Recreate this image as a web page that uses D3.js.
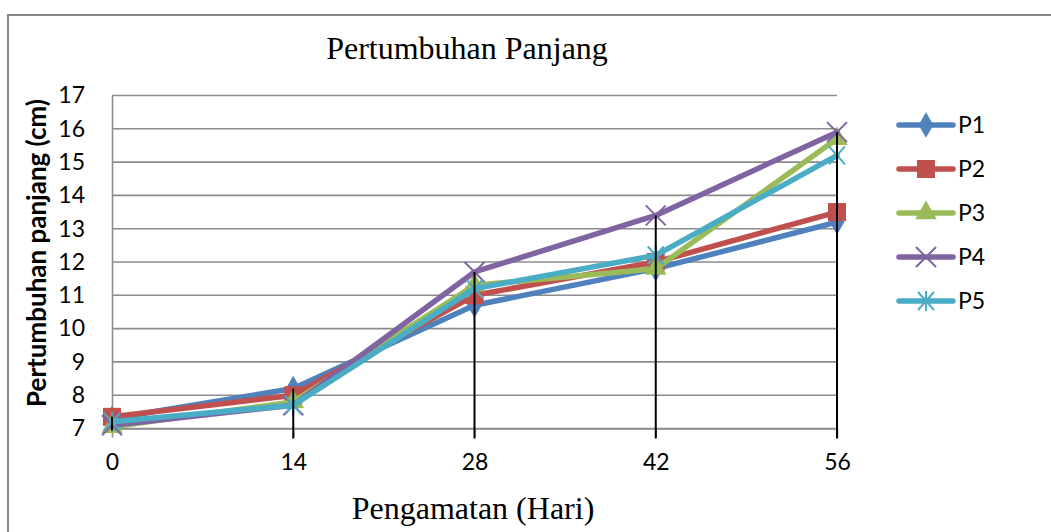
<!DOCTYPE html>
<html>
<head>
<meta charset="utf-8">
<script src="https://cdn.jsdelivr.net/npm/d3@7"></script>
<style>
    body { margin: 0; background: #fff; }
    svg { display: block; }
</style>
</head>
<body>
<svg id="chart"></svg>
<script>
"use strict";

// data
const days = [0, 14, 28, 42, 56];
const yTicks = [7, 8, 9, 10, 11, 12, 13, 14, 15, 16, 17];
const seriesNames = ["P1", "P2", "P3", "P4", "P5"];
const p1 = [7.3, 8.2, 10.7, 11.8, 13.2];
const p2 = [7.35, 8.0, 11.0, 12.0, 13.5];
const p3 = [7.05, 7.8, 11.3, 11.8, 15.7];
const p4 = [7.1, 7.7, 11.7, 13.4, 15.9];
const p5 = [7.2, 7.7, 11.2, 12.2, 15.2];
const colors = ["#4F81BD", "#C0504D", "#9BBB59", "#8064A2", "#4BACC6"];
const markers = ["diamond", "square", "triangle", "x", "star"];

const width = 1051;
const height = 532;
const plot = { left: 112, right: 837, top: 95.5, bottom: 428.5 };
const sans = "Lato, 'Open Sans', sans-serif";
const serif = "'Liberation Serif', 'Times New Roman', serif";

const svg = d3.select("#chart")
    .attr("width", width)
    .attr("height", height);

// outer chart frame (cut by the window on right and bottom)
svg.append("rect")
    .attr("x", 8).attr("y", 15)
    .attr("width", 1100).attr("height", 600)
    .attr("fill", "none")
    .attr("stroke", "#878787")
    .attr("stroke-width", 2);

const x = d3.scaleLinear().domain([0, 56]).range([plot.left, plot.right]);
const y = d3.scaleLinear().domain([7, 17]).range([plot.bottom, plot.top]);

// gridlines
svg.append("g")
    .selectAll("line")
    .data(yTicks)
    .enter()
    .append("line")
    .attr("x1", plot.left).attr("x2", plot.right)
    .attr("y1", d => y(d)).attr("y2", d => y(d))
    .attr("stroke", "#8c8c8c")
    .attr("stroke-width", 1.6);

// y axis
const yAxis = svg.append("g")
    .attr("transform", `translate(${plot.left},0)`)
    .call(d3.axisLeft(y).tickValues(yTicks).tickSize(0).tickPadding(27));
yAxis.select(".domain").attr("stroke", "#8c8c8c").attr("stroke-width", 1.6);
yAxis.selectAll("text")
    .attr("font-family", sans)
    .attr("font-size", 23)
    .attr("fill", "#000");

// x axis
const xAxis = svg.append("g")
    .attr("transform", `translate(0,${plot.bottom})`)
    .call(d3.axisBottom(x).tickValues(days).tickSize(9).tickPadding(16).tickSizeOuter(0));
xAxis.select(".domain").attr("stroke", "#8c8c8c").attr("stroke-width", 1.6);
xAxis.selectAll(".tick line").attr("stroke", "#8c8c8c").attr("stroke-width", 1.6);
xAxis.selectAll("text")
    .attr("font-family", sans)
    .attr("font-size", 23)
    .attr("fill", "#000");

// titles
svg.append("text")
    .attr("x", 467).attr("y", 59)
    .attr("text-anchor", "middle")
    .attr("font-family", serif)
    .attr("font-size", 32)
    .text("Pertumbuhan Panjang");

svg.append("text")
    .attr("x", 473).attr("y", 519)
    .attr("text-anchor", "middle")
    .attr("font-family", serif)
    .attr("font-size", 32)
    .text("Pengamatan (Hari)");

svg.append("text")
    .attr("transform", "translate(46,253) rotate(-90)")
    .attr("text-anchor", "middle")
    .attr("font-family", sans)
    .attr("font-weight", "bold")
    .attr("font-size", 26)
    .text("Pertumbuhan panjang (cm)");

// marker drawing
function drawMarker(g, type, color) {
    if (type === "diamond") {
        g.append("path").attr("d", d3.symbol(d3.symbolDiamond, 190)()).attr("fill", color);
    } else if (type === "square") {
        g.append("rect").attr("x", -9).attr("y", -9).attr("width", 18).attr("height", 18).attr("fill", color);
    } else if (type === "triangle") {
        g.append("path").attr("d", d3.symbol(d3.symbolTriangle, 200)()).attr("fill", color);
    } else if (type === "x") {
        g.append("path").attr("d", "M-10,-10L10,10M-10,10L10,-10")
            .attr("stroke", color).attr("stroke-width", 2).attr("fill", "none");
    } else {
        g.append("path").attr("d", "M-8,-9L8,9M-8,9L8,-9M0,-10L0,10")
            .attr("stroke", color).attr("stroke-width", 2).attr("fill", "none");
    }
}

const allSeries = [p1, p2, p3, p4, p5];
const line = d3.line().x((d, i) => x(days[i])).y(d => y(d));

allSeries.forEach((vals, si) => {
    svg.append("path")
        .datum(vals)
        .attr("d", line)
        .attr("fill", "none")
        .attr("stroke", colors[si])
        .attr("stroke-width", 5.5)
        .attr("stroke-linejoin", "round")
        .attr("stroke-linecap", "round");
    vals.forEach((v, i) => {
        let g = svg.append("g").attr("transform", `translate(${x(days[i])},${y(v)})`);
        drawMarker(g, markers[si], colors[si]);
    });
});

// drop lines from the points down to the axis
days.forEach((d, i) => {
    let top = d3.max(allSeries, s => s[i]);
    svg.append("line")
        .attr("x1", x(d)).attr("x2", x(d))
        .attr("y1", y(top)).attr("y2", plot.bottom + (i === 0 ? 2 : 10))
        .attr("stroke", "#000")
        .attr("stroke-width", 2);
});

// legend
const legendY = [125, 169, 213, 257, 301];
seriesNames.forEach((name, si) => {
    let g = svg.append("g").attr("transform", `translate(0,${legendY[si]})`);
    g.append("line")
        .attr("x1", 899).attr("x2", 953)
        .attr("stroke", colors[si])
        .attr("stroke-width", 5.5)
        .attr("stroke-linecap", "round");
    drawMarker(g.append("g").attr("transform", "translate(926,0)"), markers[si], colors[si]);
    g.append("text")
        .attr("x", 958).attr("y", 0)
        .attr("dy", "0.36em")
        .attr("font-family", sans)
        .attr("font-size", 23)
        .text(name);
});
</script>
</body>
</html>
